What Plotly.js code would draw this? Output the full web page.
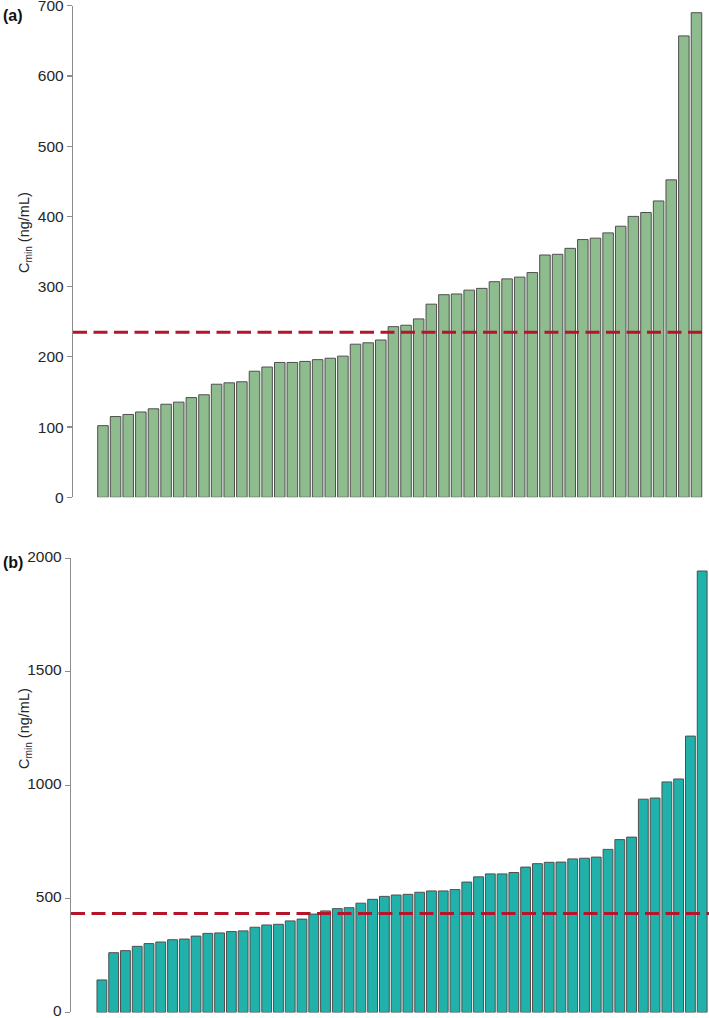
<!DOCTYPE html>
<html>
<head>
<meta charset="utf-8">
<script src="https://cdn.plot.ly/plotly-3.0.1.min.js"></script>
<style>
  html, body { margin: 0; padding: 0; background: #ffffff; }
  #chart { width: 709px; height: 1018px; }
</style>
</head>
<body>
<div id="chart"></div>
<script>
// Panel (a): Cmin values sorted ascending (ng/mL)
const valuesA = [102, 115, 118, 121.5, 126, 132.5, 135.5, 142, 146, 161,
                 163, 164.5, 179.5, 185.5, 192, 192, 193.5, 196, 198, 201,
                 218, 220, 224, 243, 245, 254, 275, 288.5, 289.5, 295,
                 297.5, 307, 311, 313.5, 320, 345, 346, 354.5, 367, 369,
                 376.5, 386, 400, 405.5, 422, 452, 657, 690];
// Panel (b): Cmin values sorted ascending (ng/mL)
const valuesB = [143, 263, 272, 291, 303, 310, 320, 323, 336, 348,
                 350, 356, 359, 375, 385, 388, 403, 411, 433, 447,
                 457, 461, 481, 498, 511, 517, 520, 529, 535, 535,
                 541, 574, 597, 610, 610, 616, 640, 655, 661, 662,
                 676, 679, 684, 718, 761, 772, 939, 944, 1015, 1028,
                 1217, 1944];
// Reference (dashed) levels
const thresholdA = 235;
const thresholdB = 436;
// Tick labels
const ticksA = [0, 100, 200, 300, 400, 500, 600, 700];
const ticksB = [0, 500, 1000, 1500, 2000];
const panelLabels = ['(a)', '(b)'];
const yTitle = 'C<sub>min</sub> (ng/mL)';

const idxA = valuesA.map((_, i) => i);
const idxB = valuesB.map((_, i) => i);

const W = 709, H = 1018;
const MT = 5, MB = 5;
const PH = H - MT - MB;
// convert a pixel row (from top of page) into a plot-area fraction
const fy = (py) => Math.min(1, Math.max(0, (H - MB - py) / PH));
const axisGrey = '#8c8c8c';
const textCol = '#262626';
const fontFam = 'Liberation Sans, Arial, sans-serif';

const traces = [
  {
    type: 'bar', x: idxA, y: valuesA, xaxis: 'x', yaxis: 'y',
    marker: { color: '#8fbc8f', line: { color: '#4f4f4f', width: 1 } },
    hoverinfo: 'y', showlegend: false
  },
  {
    type: 'bar', x: idxB, y: valuesB, xaxis: 'x2', yaxis: 'y2',
    marker: { color: '#20b2aa', line: { color: '#4f4f4f', width: 1 } },
    hoverinfo: 'y', showlegend: false
  }
];

const yaxisCommon = {
  showgrid: false, zeroline: false, showline: true,
  linecolor: axisGrey, linewidth: 1.2,
  ticks: 'outside', ticklen: 5, tickcolor: axisGrey, tickwidth: 1.2,
  tickfont: { family: fontFam, size: 15.5, color: textCol },
  ticklabeloverflow: 'allow',
  fixedrange: true
};
const xaxisCommon = {
  showgrid: false, zeroline: false, showline: false,
  showticklabels: false, ticks: '', fixedrange: true
};

const layout = {
  width: W, height: H,
  margin: { l: 0, r: 0, t: MT, b: MB, pad: 0 },
  paper_bgcolor: '#ffffff', plot_bgcolor: 'rgba(0,0,0,0)',
  bargap: 1 / 6,
  showlegend: false,
  xaxis: Object.assign({}, xaxisCommon, {
    domain: [73 / W, 1], range: [-2.372, 47.99], anchor: 'y'
  }),
  yaxis: Object.assign({}, yaxisCommon, {
    domain: [fy(497.3), fy(5.7)], range: [0, 700],
    tickvals: ticksA, ticktext: ticksA.map(String), anchor: 'x',
    ticklabelshift: 3.5
  }),
  xaxis2: Object.assign({}, xaxisCommon, {
    domain: [71 / W, 1], range: [-2.625, 51.58], anchor: 'y2'
  }),
  yaxis2: Object.assign({}, yaxisCommon, {
    domain: [fy(1012.4), fy(558.3)], range: [0, 2000],
    tickvals: ticksB, ticktext: ticksB.map(String), anchor: 'x2',
    ticklabelshift: -2
  }),
  shapes: [
    {
      type: 'line', xref: 'x domain', yref: 'y',
      x0: 0, x1: (704 - 73) / (W - 73), y0: thresholdA, y1: thresholdA,
      line: { color: '#b5152b', width: 3, dash: '14px,6.5px' }, layer: 'above'
    },
    {
      type: 'line', xref: 'x2 domain', yref: 'y2',
      x0: 0, x1: 1, y0: thresholdB, y1: thresholdB,
      line: { color: '#b5152b', width: 3, dash: '14px,6.5px' }, layer: 'above'
    }
  ],
  annotations: [
    {
      xref: 'paper', yref: 'paper', x: 25 / W, y: fy(233),
      text: yTitle, textangle: -90, showarrow: false,
      xanchor: 'center', yanchor: 'middle',
      font: { family: fontFam, size: 14.5, color: textCol }
    },
    {
      xref: 'paper', yref: 'paper', x: 25 / W, y: fy(729),
      text: yTitle, textangle: -90, showarrow: false,
      xanchor: 'center', yanchor: 'middle',
      font: { family: fontFam, size: 14.5, color: textCol }
    },
    {
      xref: 'paper', yref: 'paper', x: 1 / W, y: fy(0),
      text: '<b>' + panelLabels[0] + '</b>', showarrow: false,
      xanchor: 'left', yanchor: 'top',
      font: { family: fontFam, size: 16, color: '#111' }
    },
    {
      xref: 'paper', yref: 'paper', x: 1 / W, y: fy(552),
      text: '<b>' + panelLabels[1] + '</b>', showarrow: false,
      xanchor: 'left', yanchor: 'top',
      font: { family: fontFam, size: 16, color: '#111' }
    }
  ]
};

Plotly.newPlot('chart', traces, layout, { displayModeBar: false, staticPlot: true });
</script>
</body>
</html>
